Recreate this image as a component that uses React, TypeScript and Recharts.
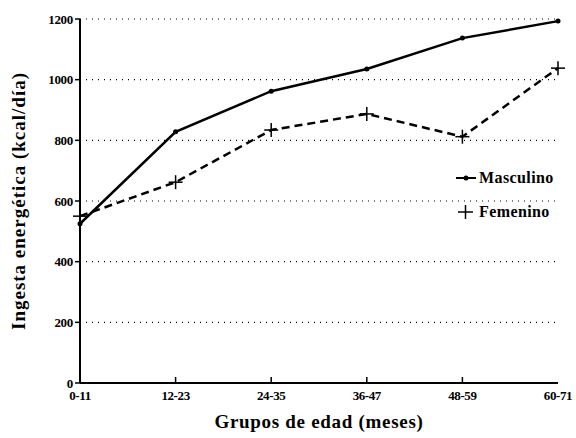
import { LineChart, Line, XAxis, YAxis, CartesianGrid } from 'recharts'

const grupos = ['0-11', '12-23', '24-35', '36-47', '48-59', '60-71']
const masculino = [525, 828, 962, 1035, 1137, 1193]
const femenino = [550, 662, 834, 887, 812, 1038]
const yTicks = [0, 200, 400, 600, 800, 1000, 1200]

const data = grupos.map((g, i) => ({ grupo: g, masculino: masculino[i], femenino: femenino[i] }))

const FONT = '"Liberation Serif", "DejaVu Serif", serif'

const XTick = ({ x, y, payload, index }: any) => (
  <g>
    {index > 0 && index < grupos.length - 1 && (
      <line x1={x} y1={y} x2={x} y2={y - 6} stroke="#000" strokeWidth={1.5} />
    )}
    <text x={x} y={y + 17} textAnchor="middle" fontFamily={FONT} fontWeight="bold" fontSize={13} letterSpacing={-0.4} fill="#000">
      {payload.value}
    </text>
  </g>
)

const PlusDot = ({ cx, cy }: any) => (
  <g>
    <line x1={cx - 7} y1={cy} x2={cx + 7} y2={cy} stroke="#000" strokeWidth={1.5} />
    <line x1={cx} y1={cy - 7} x2={cx} y2={cy + 7} stroke="#000" strokeWidth={1.5} />
  </g>
)

const SmallDot = ({ cx, cy }: any) => <circle cx={cx} cy={cy} r={2.5} fill="#000" />

const LegendBox = () => (
  <div style={{ position: 'absolute', left: 454, top: 166, fontFamily: FONT, fontWeight: 'bold', fontSize: 16, letterSpacing: 0.4, color: '#000', lineHeight: '34px' }}>
    <div style={{ display: 'flex', alignItems: 'center', height: 24 }}>
      <svg width={24} height={10}>
        <line x1={2} y1={5} x2={22} y2={5} stroke="#000" strokeWidth={2} />
        <circle cx={12} cy={5} r={2.5} fill="#000" />
      </svg>
      <span style={{ marginLeft: 1 }}>Masculino</span>
    </div>
    <div style={{ display: 'flex', alignItems: 'center', height: 24, marginTop: 10 }}>
      <svg width={24} height={16}>
        <line x1={4} y1={8} x2={19} y2={8} stroke="#000" strokeWidth={1.5} />
        <line x1={11.5} y1={1} x2={11.5} y2={15} stroke="#000" strokeWidth={1.5} />
      </svg>
      <span style={{ marginLeft: 1 }}>Femenino</span>
    </div>
  </div>
)

export default function App() {
  return (
    <div style={{ position: 'fixed', left: 0, top: 0, width: 576, height: 438, background: '#fff' }}>
      <LineChart width={576} height={438} data={data} margin={{ top: 19, right: 18, bottom: 0, left: 0 }}>
        <CartesianGrid vertical={false} stroke="#000" strokeDasharray="1 5" strokeWidth={1.2} />
        <XAxis
          dataKey="grupo"
          padding={{ left: 0, right: 0 }}
          axisLine={{ stroke: '#000', strokeWidth: 2 }}
          tickLine={false}
          tickSize={0}
          tickMargin={0}
          tick={<XTick />}
          interval={0}
          height={55}
          label={{ value: 'Grupos de edad (meses)', position: 'insideBottom', offset: 10, fontFamily: FONT, fontWeight: 'bold', fontSize: 19, letterSpacing: 0.7, fill: '#000' }}
        />
        <XAxis xAxisId="top" dataKey="grupo" orientation="top" height={0} tick={false} tickLine={false} axisLine={{ stroke: '#000', strokeWidth: 2 }} />
        <YAxis
          domain={[0, 1200]}
          ticks={yTicks}
          width={80}
          axisLine={{ stroke: '#000', strokeWidth: 2 }}
          tickLine={{ stroke: '#000', strokeWidth: 1.5 }}
          tickSize={5}
          tickMargin={2}
          tick={{ fontFamily: FONT, fontWeight: 'bold', fontSize: 13, letterSpacing: -0.3, fill: '#000' }}
          label={{ value: 'Ingesta energética (kcal/día)', angle: -90, position: 'insideLeft', offset: 18, style: { textAnchor: 'middle' }, fontFamily: FONT, fontWeight: 'bold', fontSize: 19, letterSpacing: 1, fill: '#000' }}
        />
        <YAxis yAxisId="right" orientation="right" width={0} domain={[0, 1200]} tick={false} tickLine={false} axisLine={{ stroke: '#000', strokeWidth: 2 }} />
        <Line type="linear" dataKey="masculino" name="Masculino" stroke="#000" strokeWidth={2.5} dot={<SmallDot />} activeDot={false} isAnimationActive={false} />
        <Line type="linear" dataKey="femenino" name="Femenino" stroke="#000" strokeWidth={2.5} strokeDasharray="8 5" dot={<PlusDot />} activeDot={false} isAnimationActive={false} />
      </LineChart>
      <LegendBox />
    </div>
  )
}
